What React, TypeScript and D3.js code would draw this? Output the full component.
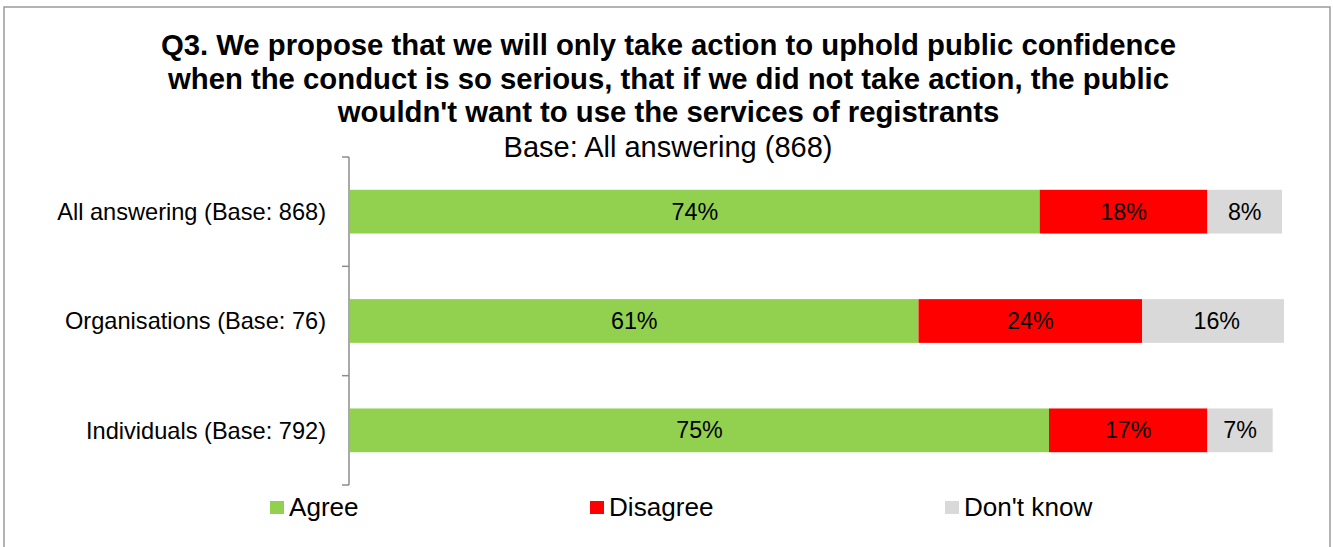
import React from "react";
import * as d3 from "d3";

const categories = ["All answering (Base: 868)", "Organisations (Base: 76)", "Individuals (Base: 792)"];
const seriesNames = ["Agree", "Disagree", "Don't know"];
const agree = [74, 61, 75];
const disagree = [18, 24, 17];
const dontKnow = [8, 16, 7];
const colors = ["#92D050", "#FF0000", "#D9D9D9"];
const titleLines = [
  "Q3. We propose that we will only take action to uphold public confidence",
  "when the conduct is so serious, that if we did not take action, the public",
  "wouldn't want to use the services of registrants",
];
const subtitle = "Base: All answering (868)";

const W = 1333;
const H = 547;
const FONT = "'Liberation Sans', Arial, sans-serif";

export default function App() {
  const x = d3.scaleLinear().domain([0, 100]).range([350, 1282]);
  const y = d3
    .scaleBand<string>()
    .domain(categories)
    .range([157, 485])
    .paddingInner(0.6)
    .paddingOuter(0.3);

  const series = [agree, disagree, dontKnow];
  const rows = categories.map((c, i) => {
    let acc = 0;
    return series.map((s, k) => {
      const v = s[i];
      const seg = { cat: c, k, x0: acc, x1: acc + v, v };
      acc += v;
      return seg;
    });
  });

  const step = y.step();
  const boundaries = [0, 1, 2, 3].map((i) => 157 + i * step);
  const legendX = [270, 590, 945];

  return (
    <svg
      width={W}
      height={H}
      style={{ position: "absolute", left: 0, top: 0, background: "#fff" }}
      fontFamily={FONT}
    >
      <defs>
        <clipPath id="plotclip">
          <rect x={340} y={150} width={1284 - 340} height={340} />
        </clipPath>
      </defs>
      <rect x={4} y={7} width={1326} height={560} fill="#fff" stroke="#9a9a9a" strokeWidth={1.5} />

      {titleLines.map((t, i) => (
        <text
          key={i}
          x={668.5}
          y={55 + i * 33.6}
          textAnchor="middle"
          fontWeight="bold"
          fontSize={29.3}
          fill="#000"
        >
          {t}
        </text>
      ))}
      <text x={668} y={157} textAnchor="middle" fontSize={29} fill="#000">
        {subtitle}
      </text>

      <g clipPath="url(#plotclip)">
        {rows.map((segs) =>
          segs.map((s) => (
            <rect
              key={s.cat + s.k}
              x={x(s.x0)}
              y={y(s.cat)!}
              width={x(s.x1) - x(s.x0)}
              height={y.bandwidth()}
              fill={colors[s.k]}
            />
          ))
        )}
      </g>
      {rows.map((segs) =>
        segs.map((s) => (
          <text
            key={"l" + s.cat + s.k}
            x={(x(s.x0) + x(s.x1)) / 2}
            y={y(s.cat)! + y.bandwidth() / 2}
            dy="0.35em"
            textAnchor="middle"
            fontSize={23.3}
            fill="#000"
          >
            {d3.format(".0f")(s.v) + "%"}
          </text>
        ))
      )}

      <line x1={349} x2={349} y1={157} y2={485} stroke="#8c8c8c" strokeWidth={1.5} />
      {boundaries.map((b, i) => (
        <line key={i} x1={342} x2={349} y1={b} y2={b} stroke="#8c8c8c" strokeWidth={1.5} />
      ))}
      {categories.map((c) => (
        <text
          key={c}
          x={326}
          y={y(c)! + y.bandwidth() / 2}
          dy="0.35em"
          textAnchor="end"
          fontSize={23.6}
          fill="#000"
        >
          {c}
        </text>
      ))}

      {seriesNames.map((n, i) => (
        <g key={n}>
          <rect x={legendX[i]} y={501} width={14} height={13} fill={colors[i]} />
          <text x={legendX[i] + 19} y={516} fontSize={26.1} fill="#000">
            {n}
          </text>
        </g>
      ))}
    </svg>
  );
}
